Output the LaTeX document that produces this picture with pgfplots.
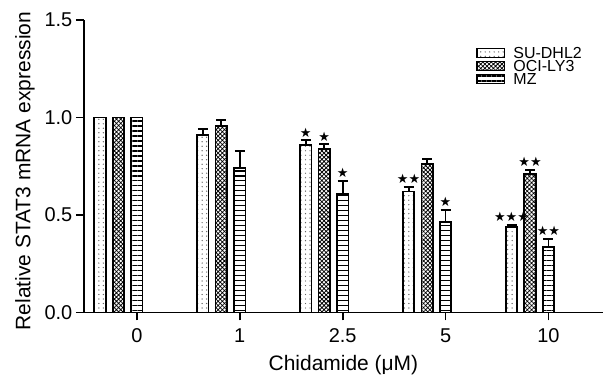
\documentclass[border=0pt]{standalone}
\usepackage{pgfplots}
\pgfplotsset{compat=1.18}
\usetikzlibrary{patterns.meta}
\usepackage{fontspec}
\setmainfont{Liberation Sans}
\newfontfamily\sym{DejaVu Sans}
\begin{document}
\begin{tikzpicture}
\begin{axis}[
  width=520pt, height=293pt, scale only axis,
  xmin=-0.515, xmax=4.53, ymin=0, ymax=1.5,
  axis x line*=bottom, axis y line*=left,
  axis line style={line width=1.8pt, -},
  xtick={0,1,2,3,4}, xticklabels={0,1,2.5,5,10},
  ytick={0,0.5,1,1.5},
  yticklabel style={/pgf/number format/fixed, /pgf/number format/fixed zerofill, /pgf/number format/precision=1},
  /pgf/number format/assume math mode=true,
  tick style={line width=1.8pt, black}, tick align=outside, major tick length=8pt,
  ticklabel style={font=\fontsize{20}{24}\selectfont},
  xticklabel style={yshift=-5pt},
  xlabel={Chidamide (μM)},
  ylabel={Relative STAT3 mRNA expression},
  label style={font=\fontsize{21}{25}\selectfont},
  xlabel style={at={(axis description cs:0.5,0)}, anchor=base, yshift=-58pt},
  ylabel style={at={(axis description cs:-0.1135,0.483)}, anchor=center},
  clip=false,
  legend style={at={(0.755,0.907)}, anchor=north west, draw=none, fill=none, inner sep=0pt,
     font=\fontsize{16}{16}\selectfont, row sep=1.5pt,
     nodes={inner sep=0pt, text height=11.5pt, text depth=0pt},
     /tikz/every odd column/.append style={column sep=8pt}},
  legend cell align=left,
  legend image code/.code={\draw[#1, line width=1.5pt] (0pt,-4.5pt) rectangle (28pt,4.5pt);},
  error bars/y dir=plus, error bars/y explicit,
  error bars/error bar style={line width=1.8pt},
  error bars/error mark options={line width=1.8pt, mark size=5pt, rotate=90},
]
\addplot[ybar, bar width=11.5pt, bar shift=0pt, draw=black, line width=1.8pt,
  pattern={Dots[distance=4.5pt, radius=0.7pt]}, pattern color=black!60]
  coordinates {(-0.359,1.00) +- (0,0) (0.641,0.91) +- (0,0.03) (1.641,0.86) +- (0,0.025) (2.641,0.62) +- (0,0.025) (3.641,0.44) +- (0,0.01)};
\addlegendentry{SU-DHL2}
\addplot[ybar, bar width=11.5pt, bar shift=0pt, draw=black, line width=1.8pt,
  pattern={Hatch[angle=45, distance=3pt, line width=0.75pt]}, pattern color=black]
  coordinates {(-0.179,1.00) +- (0,0) (0.821,0.955) +- (0,0.03) (1.821,0.84) +- (0,0.025) (2.821,0.76) +- (0,0.025) (3.821,0.71) +- (0,0.02)};
\addlegendentry{OCI-LY3}
\addplot[ybar, bar width=11.5pt, bar shift=0pt, draw=black, line width=1.8pt,
  pattern={Lines[angle=0, distance=5pt, line width=1.6pt]}, pattern color=black]
  coordinates {(0,1.00) +- (0,0) (1,0.74) +- (0,0.087) (2,0.607) +- (0,0.066) (3,0.464) +- (0,0.062) (4,0.337) +- (0,0.041)};
\addlegendentry{MZ}
\addplot[draw=none, mark=none, forget plot, nodes near coords, point meta=explicit symbolic,
  nodes near coords style={font=\sym\fontsize{13}{13}\selectfont, anchor=south, inner sep=0pt, yshift=3pt}]
  coordinates {
   (1.641,0.883) [★] (1.821,0.862) [★] (2,0.673) [★]
   (2.641,0.643) [★★] (3,0.526) [★]
   (3.641,0.449) [★★★] (3.821,0.73) [★★] (4,0.378) [★★]
  };
\coordinate (sw) at (rel axis cs:0,0);
\coordinate (ne) at (rel axis cs:1,1);
\end{axis}
\pgfresetboundingbox
\path ([shift={(-84pt,-63pt)}]sw) rectangle ([shift={(0pt,20pt)}]ne);
\end{tikzpicture}
\end{document}
